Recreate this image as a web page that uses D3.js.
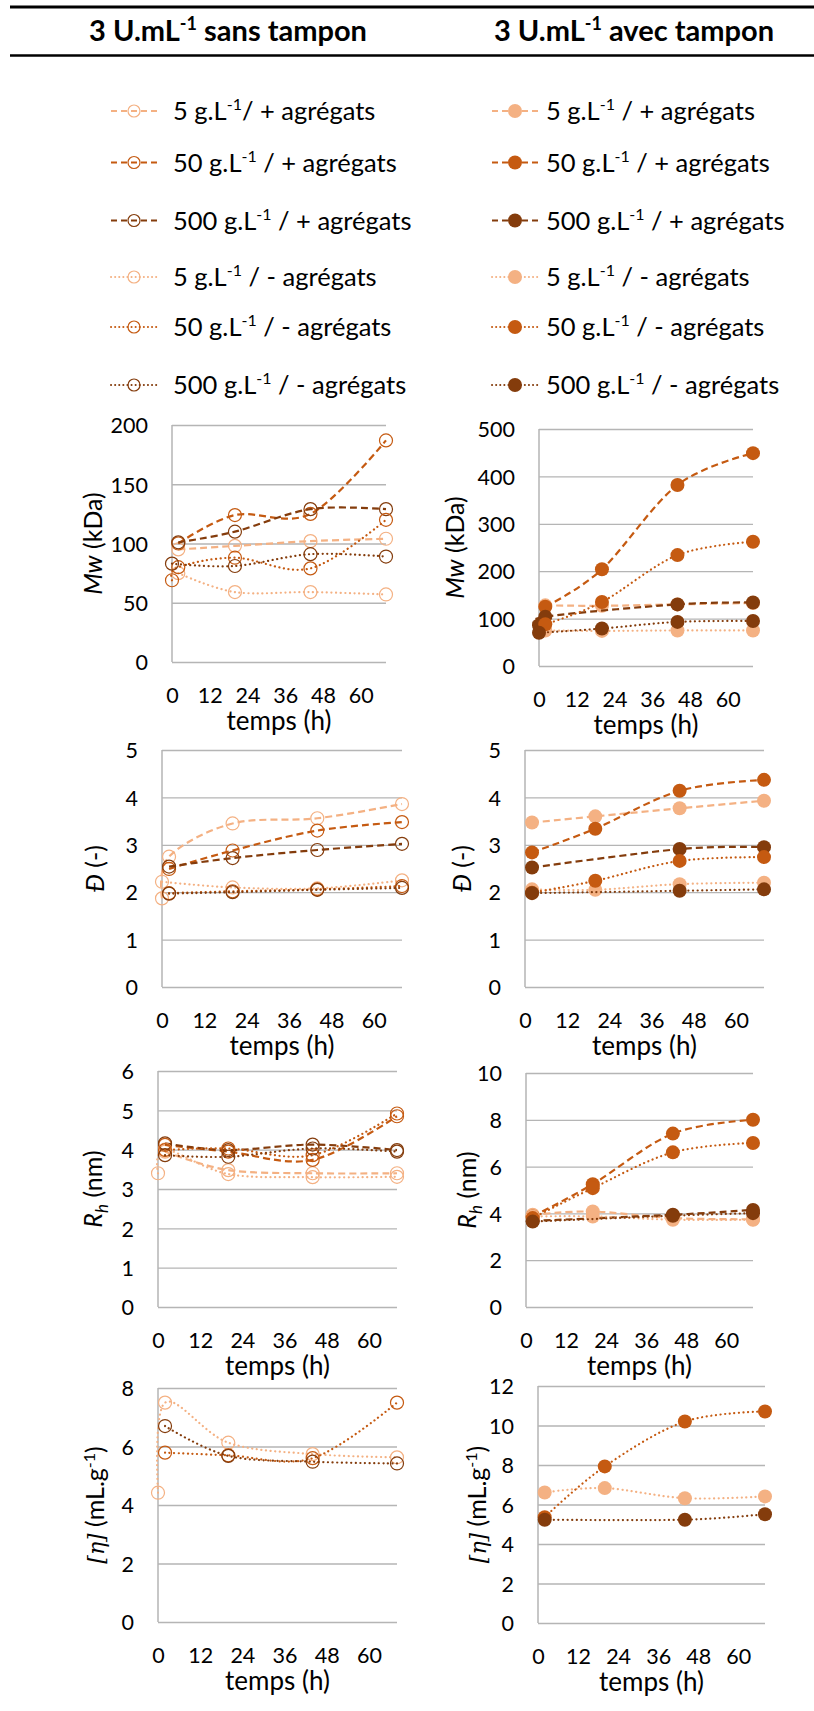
<!DOCTYPE html>
<html><head><meta charset="utf-8">
<script src="https://cdn.jsdelivr.net/npm/d3@7"></script>
<style>body{margin:0;background:#fff} svg{display:block}</style>
</head><body>
<svg id="c" width="814" height="1711"></svg>
<script>
// ---------- DATA ----------
const seriesConc = ["5", "50", "500", "5", "50", "500"];
const seriesAgg = ["+ agrégats", "+ agrégats", "+ agrégats", "- agrégats", "- agrégats", "- agrégats"];
const seriesColors = ["#F4B183", "#C55A11", "#843C0C", "#F4B183", "#C55A11", "#843C0C"];
const seriesDashed = [true, true, true, false, false, false];
const headers = ["sans tampon", "avec tampon"];
const xTicks = [0, 12, 24, 36, 48, 60];
const xDomain = [0, 68];

// each series: [time (h), value]
const mwSans = [
  [[2, 95], [20, 98], [44, 102], [68, 104]],
  [[2, 100], [20, 124], [44, 125], [68, 187]],
  [[2, 101], [20, 110], [44, 129], [68, 129]],
  [[2, 75], [20, 59], [44, 59], [68, 57]],
  [[0, 69], [2, 80], [20, 88], [44, 79], [68, 120]],
  [[0, 83], [20, 81], [44, 91], [68, 89]]
];
const mwAvec = [
  [[2, 128], [20, 127], [44, 130], [68, 133]],
  [[2, 125], [20, 204], [44, 382], [68, 449]],
  [[0, 86], [2, 104], [44, 130], [68, 134]],
  [[2, 75], [20, 74], [44, 75], [68, 75]],
  [[2, 88], [20, 135], [44, 234], [68, 262]],
  [[0, 70], [20, 79], [44, 93], [68, 95]]
];
const dSans = [
  [[0, 1.87], [2, 2.75], [20, 3.45], [44, 3.56], [68, 3.86]],
  [[2, 2.49], [20, 2.88], [44, 3.30], [68, 3.48]],
  [[2, 2.54], [20, 2.72], [44, 2.89], [68, 3.02]],
  [[0, 2.22], [20, 2.10], [44, 2.08], [68, 2.25]],
  [[2, 1.98], [20, 2.02], [44, 2.06], [68, 2.13]],
  [[2, 1.97], [20, 2.00], [44, 2.05], [68, 2.09]]
];
const dAvec = [
  [[2, 3.47], [20, 3.60], [44, 3.77], [68, 3.93]],
  [[2, 2.84], [20, 3.34], [44, 4.14], [68, 4.37]],
  [[2, 2.52], [44, 2.91], [68, 2.95]],
  [[2, 2.06], [20, 2.05], [44, 2.17], [68, 2.20]],
  [[2, 1.99], [20, 2.24], [44, 2.66], [68, 2.74]],
  [[2, 1.98], [44, 2.03], [68, 2.06]]
];
const rhSans = [
  [[2, 3.95], [20, 3.48], [44, 3.40], [68, 3.40]],
  [[2, 4.12], [20, 3.95], [44, 3.74], [68, 4.85]],
  [[2, 4.16], [20, 3.99], [44, 4.13], [68, 3.99]],
  [[0, 3.40], [2, 4.00], [20, 3.38], [44, 3.30], [68, 3.31]],
  [[2, 3.99], [20, 4.03], [44, 3.86], [68, 4.92]],
  [[2, 3.86], [20, 3.82], [44, 4.03], [68, 3.95]]
];
const rhAvec = [
  [[2, 3.94], [20, 4.08], [44, 3.80], [68, 3.75]],
  [[2, 3.87], [20, 5.25], [44, 7.41], [68, 8.00]],
  [[2, 3.68], [44, 3.94], [68, 4.15]],
  [[2, 3.87], [20, 3.87], [44, 3.73], [68, 3.73]],
  [[2, 3.80], [20, 5.08], [44, 6.61], [68, 7.01]],
  [[2, 3.65], [44, 3.90], [68, 4.01]]
];
const etaSans = [
  [], [], [],
  [[0, 4.42], [2, 7.50], [20, 6.13], [44, 5.74], [68, 5.63]],
  [[2, 5.79], [20, 5.70], [44, 5.60], [68, 7.50]],
  [[2, 6.70], [20, 5.68], [44, 5.48], [68, 5.42]]
];
const etaAvec = [
  [], [], [],
  [[2, 6.61], [20, 6.83], [44, 6.32], [68, 6.41]],
  [[2, 5.36], [20, 7.93], [44, 10.20], [68, 10.71]],
  [[2, 5.23], [44, 5.23], [68, 5.51]]
];
const mwSansTicks = [0, 50, 100, 150, 200];
const mwAvecTicks = [0, 100, 200, 300, 400, 500];
const dTicks = [0, 1, 2, 3, 4, 5];
const rhSansTicks = [0, 1, 2, 3, 4, 5, 6];
const rhAvecTicks = [0, 2, 4, 6, 8, 10];
const etaSansTicks = [0, 2, 4, 6, 8];
const etaAvecTicks = [0, 2, 4, 6, 8, 10, 12];

// ---------- LAYOUT ----------
const FONT = "Lato, 'Open Sans', sans-serif";
const svg = d3.select("#c");
const GRID = "#b5b5b5";
const fmt = d3.format("d");

// header
svg.append("line").attr("x1", 10).attr("x2", 814).attr("y1", 7).attr("y2", 7)
  .attr("stroke", "#000").attr("stroke-width", 3);
svg.append("line").attr("x1", 10).attr("x2", 814).attr("y1", 55.5).attr("y2", 55.5)
  .attr("stroke", "#000").attr("stroke-width", 2.5);
const headerX = [228, 634];
headers.forEach((h, i) => {
  const t = svg.append("text").attr("x", headerX[i]).attr("y", 41)
    .attr("text-anchor", "middle").attr("font-family", FONT).attr("font-weight", "bold")
    .attr("font-size", 29).attr("fill", "#000");
  t.append("tspan").text("3 U.mL");
  t.append("tspan").attr("dy", -11).attr("font-size", 18).text("-1");
  t.append("tspan").attr("dy", 11).text(" " + h);
});

// legend
const legendRows = [111, 162.5, 220.5, 277, 327, 385];
const legendCols = [{mx: 134, tx: 173, filled: false}, {mx: 515, tx: 546, filled: true}];
legendCols.forEach((col, ci) => {
  seriesConc.forEach((c, i) => {
    const y = legendRows[i];
    const g = svg.append("g");
    g.append("line").attr("x1", col.mx - 23).attr("x2", col.mx + 23).attr("y1", y).attr("y2", y)
      .attr("stroke", seriesColors[i]).attr("stroke-width", 2)
      .attr("stroke-dasharray", seriesDashed[i] ? "6,4" : "0.1,4")
      .attr("stroke-linecap", seriesDashed[i] ? "butt" : "round");
    if (col.filled) {
      g.append("circle").attr("cx", col.mx).attr("cy", y).attr("r", 7).attr("fill", seriesColors[i]);
    } else {
      g.append("circle").attr("cx", col.mx).attr("cy", y).attr("r", 6)
        .attr("fill", "none").attr("stroke", seriesColors[i]).attr("stroke-width", 1.2);
    }
    const t = g.append("text").attr("x", col.tx).attr("y", y).attr("dy", "0.36em")
      .attr("font-family", FONT).attr("font-size", 25.5).attr("fill", "#000");
    t.append("tspan").text(c + " g.L");
    t.append("tspan").attr("dy", -10).attr("font-size", 16).text("-1");
    const slash = (ci === 0 && i === 0) ? "/ " : " / ";
    t.append("tspan").attr("dy", 10).text(slash + seriesAgg[i]);
  });
});

// panels
const panels = [
  {data: mwSans, ticks: mwSansTicks, l: 172, r: 386, t: 425, b: 662, tx: 93, title: "mw", filled: false},
  {data: mwAvec, ticks: mwAvecTicks, l: 539, r: 753, t: 429, b: 666, tx: 455, title: "mw", filled: true},
  {data: dSans, ticks: dTicks, l: 162, r: 402, t: 750, b: 987, tx: 95, title: "d", filled: false},
  {data: dAvec, ticks: dTicks, l: 525, r: 764, t: 750, b: 987, tx: 462, title: "d", filled: true},
  {data: rhSans, ticks: rhSansTicks, l: 158, r: 397, t: 1071, b: 1307, tx: 93, title: "rh", filled: false},
  {data: rhAvec, ticks: rhAvecTicks, l: 526, r: 753, t: 1073, b: 1307, tx: 467, title: "rh", filled: true},
  {data: etaSans, ticks: etaSansTicks, l: 158, r: 397, t: 1388, b: 1622, tx: 95, title: "eta", filled: false},
  {data: etaAvec, ticks: etaAvecTicks, l: 538, r: 765, t: 1386, b: 1623, tx: 477, title: "eta", filled: true}
];

function yTitle(sel, kind) {
  if (kind === "mw") {
    sel.append("tspan").attr("font-style", "italic").text("Mw");
    sel.append("tspan").text(" (kDa)");
  } else if (kind === "d") {
    sel.append("tspan").attr("font-style", "italic").text("Đ");
    sel.append("tspan").text(" (-)");
  } else if (kind === "rh") {
    sel.append("tspan").attr("font-style", "italic").text("R");
    sel.append("tspan").attr("font-style", "italic").attr("font-size", 17).attr("dy", 6).text("h");
    sel.append("tspan").attr("dy", -6).text(" (nm)");
  } else {
    sel.append("tspan").attr("font-style", "italic").attr("font-family", "'DejaVu Serif', serif").attr("font-size", 22).text("[η]");
    sel.append("tspan").text(" (mL.g");
    sel.append("tspan").attr("font-size", 16).attr("dy", -9).text("-1");
    sel.append("tspan").attr("dy", 9).text(")");
  }
}

panels.forEach(p => {
  const x = d3.scaleLinear().domain(xDomain).range([p.l, p.r]);
  const y = d3.scaleLinear().domain([0, d3.max(p.ticks)]).range([p.b, p.t]);
  const g = svg.append("g");

  // y axis with gridlines
  const ya = g.append("g").attr("transform", `translate(${p.l},0)`)
    .call(d3.axisLeft(y).tickValues(p.ticks).tickFormat(fmt).tickSize(-(p.r - p.l)).tickPadding(24));
  ya.select(".domain").remove();
  ya.selectAll(".tick line").attr("stroke", GRID).attr("stroke-width", 1.3);
  ya.selectAll(".tick text").attr("font-family", FONT).attr("font-size", 21.5).attr("fill", "#000").attr("dy", "0.36em");
  g.append("line").attr("x1", p.l).attr("x2", p.l).attr("y1", p.t).attr("y2", p.b)
    .attr("stroke", GRID).attr("stroke-width", 1.5);

  // x axis
  const xa = g.append("g").attr("transform", `translate(0,${p.b})`)
    .call(d3.axisBottom(x).tickValues(xTicks).tickFormat(fmt).tickSize(0).tickPadding(0));
  xa.select(".domain").remove();
  xa.selectAll(".tick text").attr("font-family", FONT).attr("font-size", 21.5).attr("fill", "#000")
    .attr("y", 33).attr("dy", "0.36em");

  g.append("text").attr("x", (p.l + p.r) / 2).attr("y", p.b + 59).attr("dy", "0.36em")
    .attr("text-anchor", "middle").attr("font-family", FONT).attr("font-size", 26).attr("fill", "#000")
    .text("temps (h)");

  const yt = g.append("text").attr("transform", `translate(${p.tx},${(p.t + p.b) / 2}) rotate(-90)`)
    .attr("text-anchor", "middle").attr("dy", "0.36em").attr("font-family", FONT)
    .attr("font-size", 25).attr("fill", "#000");
  yTitle(yt, p.title);

  const line = d3.line().x(d => x(d[0])).y(d => y(d[1])).curve(d3.curveCardinal.tension(0));
  p.data.forEach((s, i) => {
    if (!s.length) return;
    g.append("path").attr("d", line(s)).attr("fill", "none")
      .attr("stroke", seriesColors[i]).attr("stroke-width", 2.2)
      .attr("stroke-dasharray", seriesDashed[i] ? "7,4" : "0.1,4.5")
      .attr("stroke-linecap", seriesDashed[i] ? "butt" : "round");
    const m = g.selectAll(null).data(s).enter().append("circle")
      .attr("cx", d => x(d[0])).attr("cy", d => y(d[1]));
    if (p.filled) {
      m.attr("r", 7).attr("fill", seriesColors[i]);
    } else {
      m.attr("r", 6.5).attr("fill", "none").attr("stroke", seriesColors[i]).attr("stroke-width", 1.2);
    }
  });
});
</script>
</body></html>
